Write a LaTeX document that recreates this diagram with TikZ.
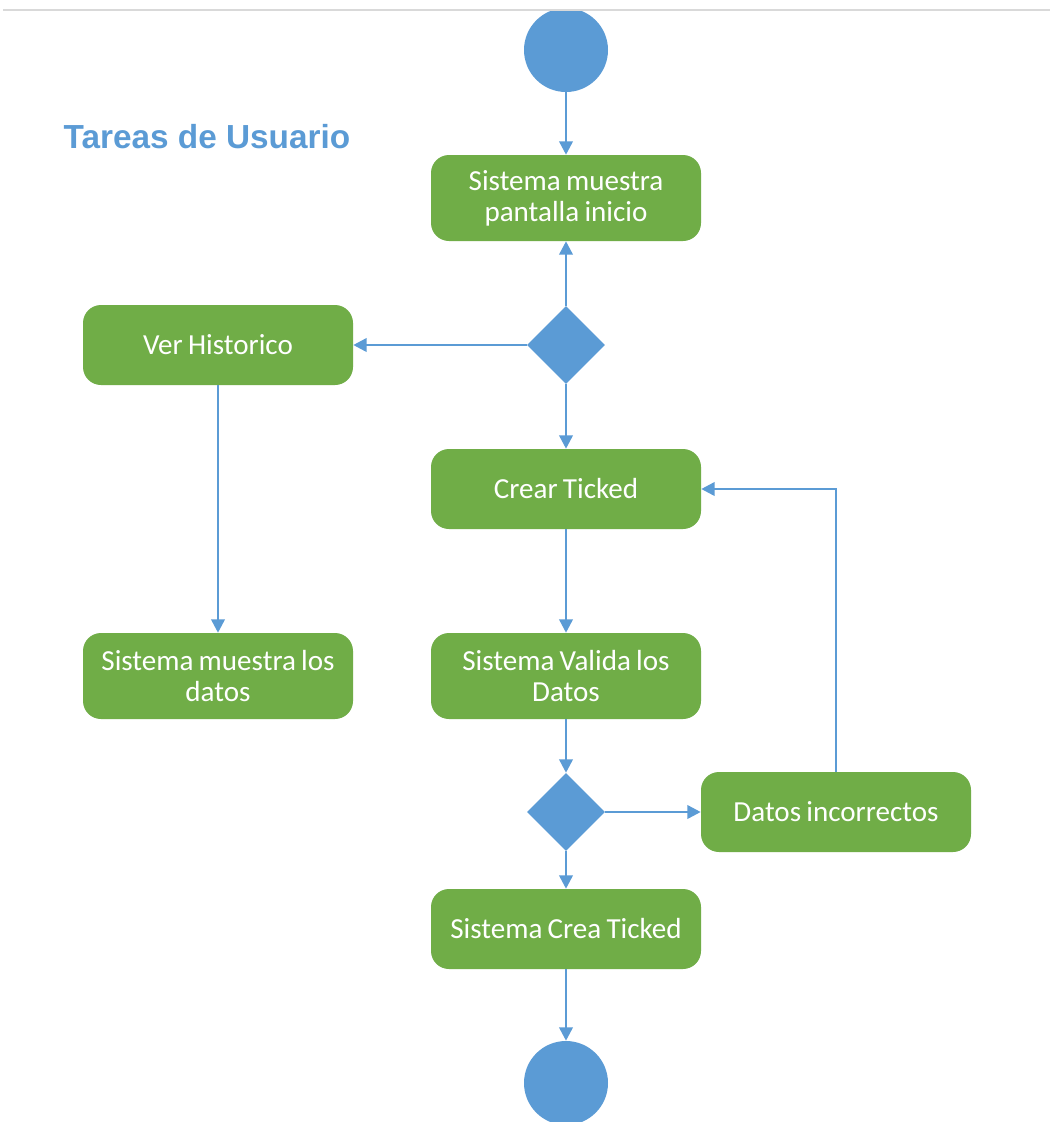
\documentclass[tikz,border=0pt]{standalone}
\usepackage{fontspec}
\setmainfont{Carlito}[WordSpace=0.8]
\newfontfamily\titlefont{Liberation Sans}
\usetikzlibrary{shapes.geometric,arrows.meta}
\definecolor{actgreen}{HTML}{70AD47}
\definecolor{flowblue}{HTML}{5B9BD5}
\definecolor{rulegray}{HTML}{D9D9D9}
\tikzset{
  activity/.style={draw=none, fill=actgreen, rounded corners=13.5pt,
    minimum width=202.5pt, align=center, text=white,
    font=\fontsize{21.8}{23.25}\selectfont, inner sep=0pt},
  onerow/.style={activity, minimum height=60pt},
  tworow/.style={activity, minimum height=64.5pt},
  decision/.style={diamond, fill=flowblue, draw=none, inner sep=0pt,
    minimum width=58.5pt, minimum height=58.5pt},
  terminal/.style={circle, fill=flowblue, draw=none, inner sep=0pt,
    minimum size=63pt},
  flow/.style={draw=flowblue, line width=1.9pt,
    -{Triangle[length=10pt,width=10pt]}},
}
\begin{document}
\begin{tikzpicture}[x=0.75pt, y=-0.75pt]
\clip (0,0) rectangle (1050,1122);
\fill[white] (0,0) rectangle (1050,1122);

% start and end states
\node[terminal] (start) at (566,50) {};
\node[terminal] (stop) at (566,1083) {};

% top rule over the start state
\fill[white] (0,0) rectangle (1050,9);
\draw[rulegray, line width=1.6pt] (3,10) -- (1050,10);

% title
\node[text=flowblue, font=\titlefont\bfseries\fontsize{25}{30}\selectfont]
  (title) at (207,137) {Tareas de Usuario};

% activities
\node[tworow] (inicio) at (566,198) {Sistema muestra\\pantalla inicio};
\node[decision] (menu) at (566,345) {};
\node[onerow] (historico) at (218,345) {Ver Historico};
\node[onerow] (crear) at (566,489) {Crear Ticked};
\node[tworow] (muestra) at (218,676) {Sistema muestra los\\datos};
\node[tworow] (valida) at (566,676) {Sistema Valida los\\Datos};
\node[decision] (check) at (566,812) {};
\node[onerow] (incorrectos) at (836,812) {Datos incorrectos};
\node[onerow] (creado) at (566,929) {Sistema Crea Ticked};

% control flow
\draw[flow] (start) -- (inicio);
\draw[flow] (menu.north) -- (inicio);
\draw[flow] (menu.west) -- (historico);
\draw[flow] (menu.south) -- (crear);
\draw[flow] (historico) -- (muestra);
\draw[flow] (crear) -- (valida);
\draw[flow] (valida) -- (check.north);
\draw[flow] (check.east) -- (incorrectos);
\draw[flow] (check.south) -- (creado);
\draw[flow] (incorrectos.north) |- (crear.east);
\draw[flow] (creado) -- (stop);
\end{tikzpicture}
\end{document}
